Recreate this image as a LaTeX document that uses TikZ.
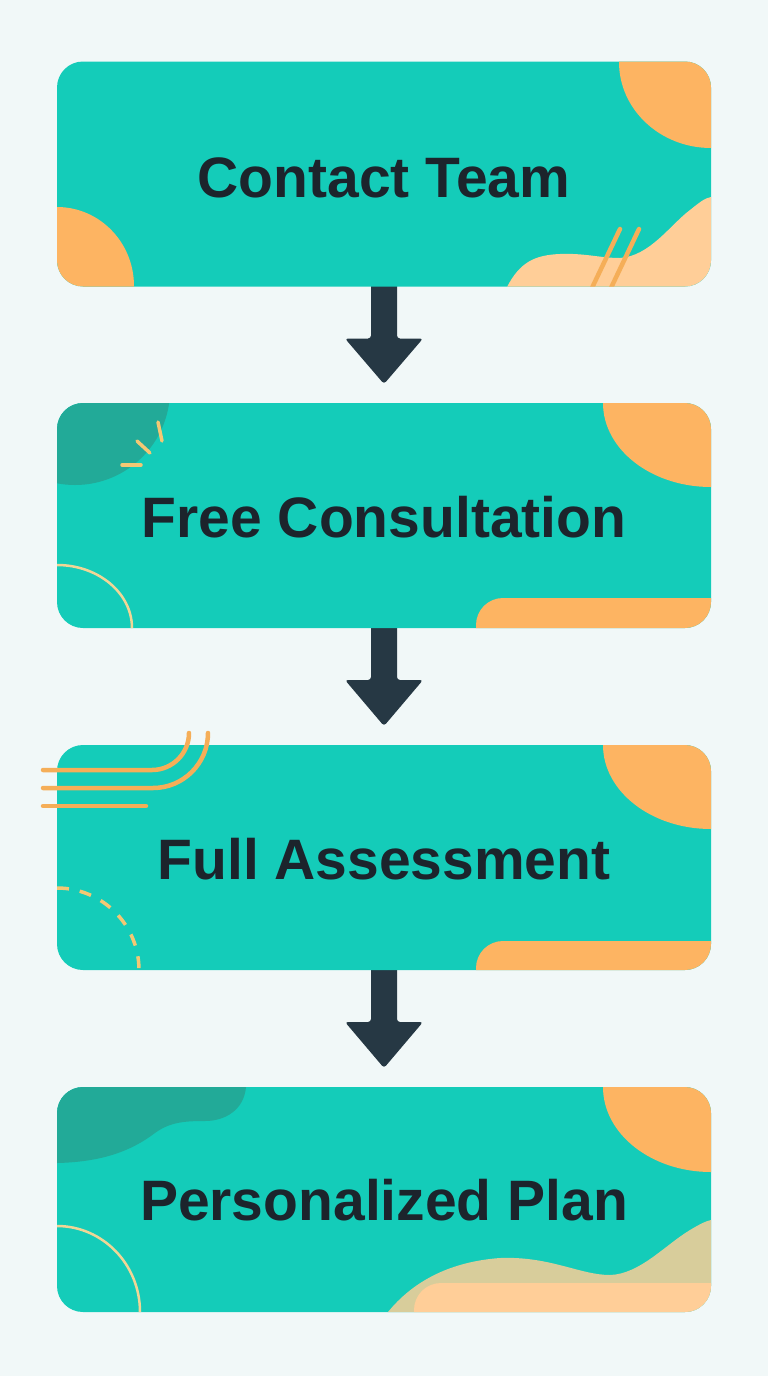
\documentclass[tikz,border=0pt]{standalone}
\usepackage{fontspec}
\setmainfont{Liberation Sans}
\usetikzlibrary{calc,backgrounds}
\definecolor{bgc}{RGB}{241,248,248}
\definecolor{tealc}{RGB}{20,204,185}
\definecolor{darkteal}{RGB}{34,170,152}
\definecolor{orng}{RGB}{253,180,98}
\definecolor{peach}{RGB}{255,206,152}
\definecolor{tanc}{RGB}{216,205,155}
\definecolor{linec}{RGB}{245,174,88}
\definecolor{paleline}{RGB}{240,214,150}
\definecolor{dashc}{RGB}{243,200,116}
\definecolor{arrowc}{RGB}{38,56,68}
\definecolor{textc}{RGB}{28,36,44}
\begin{document}
\begin{tikzpicture}[x=1pt,y=-1pt,
  box/.style={fill=tealc, rounded corners=26pt, minimum width=654pt, minimum height=225pt, inner sep=0pt, outer sep=0pt},
  lbl/.style={text=textc, font=\fontsize{57}{60}\selectfont\bfseries, inner sep=0pt, anchor=base},
  orline/.style={draw=linec, line width=4.5pt, line cap=round},
  dashline/.style={draw=dashc, line width=3.5pt, line cap=round},
  paleline/.style={draw=paleline, line width=2.5pt},
  flowarrow/.style={fill=arrowc, rounded corners=3pt}]
\useasboundingbox (0,0) rectangle (768,1376);

% boxes
\node[box] (b1) at (384,174) {};
\node[box] (b2) at (384,515.5) {};
\node[box] (b3) at (384,857.5) {};
\node[box] (b4) at (384,1199.5) {};

% box 1 decorations
\begin{scope}
  \clip[rounded corners=26pt] (b1.north west) rectangle (b1.south east);
  \fill[orng] (711,62) ellipse[x radius=92, y radius=86];
  \fill[orng] (57,286) ellipse[x radius=77, y radius=79];
  \fill[peach] (503,292) -- (507,287) .. controls (520,262) and (535,255) .. (560,254)
     .. controls (585,253) and (600,258) .. (620,258)
     .. controls (650,256) and (670,225) .. (690,210)
     .. controls (700,202) and (705,198) .. (711,197) -- (716,197) -- (716,292) -- cycle;
  \draw[orline] (620,229) -- (591,290);
  \draw[orline] (639,229) -- (610,290);
\end{scope}

% box 2 decorations
\begin{scope}
  \clip[rounded corners=26pt] (b2.north west) rectangle (b2.south east);
  \fill[darkteal] (75,390) circle[radius=95];
  \draw[dashline] (158,422) -- (162,441);
  \draw[dashline] (137,441) -- (150,453);
  \draw[dashline] (122,465) -- (141,465);
  \fill[orng] (711,403) ellipse[x radius=108, y radius=84];
  \draw[paleline] (57,565) arc[start angle=270, end angle=360, x radius=75, y radius=63];
  \fill[orng, rounded corners=27pt] (476,598) rectangle (760,680);
\end{scope}

% box 3 decorations
\begin{scope}
  \clip[rounded corners=26pt] (b3.north west) rectangle (b3.south east);
  \fill[orng] (711,745) ellipse[x radius=108, y radius=84];
  \draw[dashc, line width=3.5pt, dash pattern=on 12pt off 11pt] (57,888) arc[start angle=270, end angle=360, radius=82];
  \fill[orng, rounded corners=27pt] (476,941) rectangle (760,1020);
\end{scope}
\draw[orline] (43,770) -- (152,770) arc[start angle=90, end angle=0, radius=37];
\draw[orline] (43,788) -- (153,788) arc[start angle=90, end angle=0, radius=55];
\draw[orline] (43,806) -- (146,806);

% box 4 decorations
\begin{scope}
  \clip[rounded corners=26pt] (b4.north west) rectangle (b4.south east);
  \fill[darkteal] (246,1080) -- (246,1087) .. controls (244,1110) and (225,1121) .. (205,1121)
     .. controls (185,1121) and (170,1122) .. (155,1133)
     .. controls (130,1152) and (100,1162) .. (57,1163) -- (50,1163) -- (50,1080) -- cycle;
  \fill[orng] (711,1087) ellipse[x radius=108, y radius=85];
  \draw[paleline] (57,1226) arc[start angle=270, end angle=360, x radius=83, y radius=86];
  \fill[tanc] (384,1318) -- (388,1312) .. controls (410,1285) and (445,1262) .. (500,1258)
     .. controls (550,1256) and (580,1275) .. (610,1275)
     .. controls (640,1274) and (665,1245) .. (690,1230)
     .. controls (700,1224) and (706,1221) .. (711,1220) -- (716,1220) -- (716,1318) -- cycle;
  \fill[peach, rounded corners=27pt] (414,1283) rectangle (760,1360);
\end{scope}

% labels
\node[lbl] (t1) at (384,197) {Contact Team};
\node[lbl] (t2) at (384,537) {Free Consultation};
\node[lbl] (t3) at (384,879) {Full Assessment};
\node[lbl] (t4) at (384,1220) {Personalized Plan};

% background and arrows
\begin{scope}[on background layer]
  \fill[bgc] (0,0) rectangle (768,1376);
  \foreach \a/\b in {b1/b2,b2/b3,b3/b4} {
    \fill[flowarrow] ($(\a.south)+(-13,-6)$) -- ($(\a.south)+(-13,52)$) -- ($(\a.south)+(-39,52)$)
      -- ($(\b.north)+(0,-19)$) -- ($(\a.south)+(39,52)$) -- ($(\a.south)+(13,52)$)
      -- ($(\a.south)+(13,-6)$) -- cycle;
  }
\end{scope}
\end{tikzpicture}
\end{document}
